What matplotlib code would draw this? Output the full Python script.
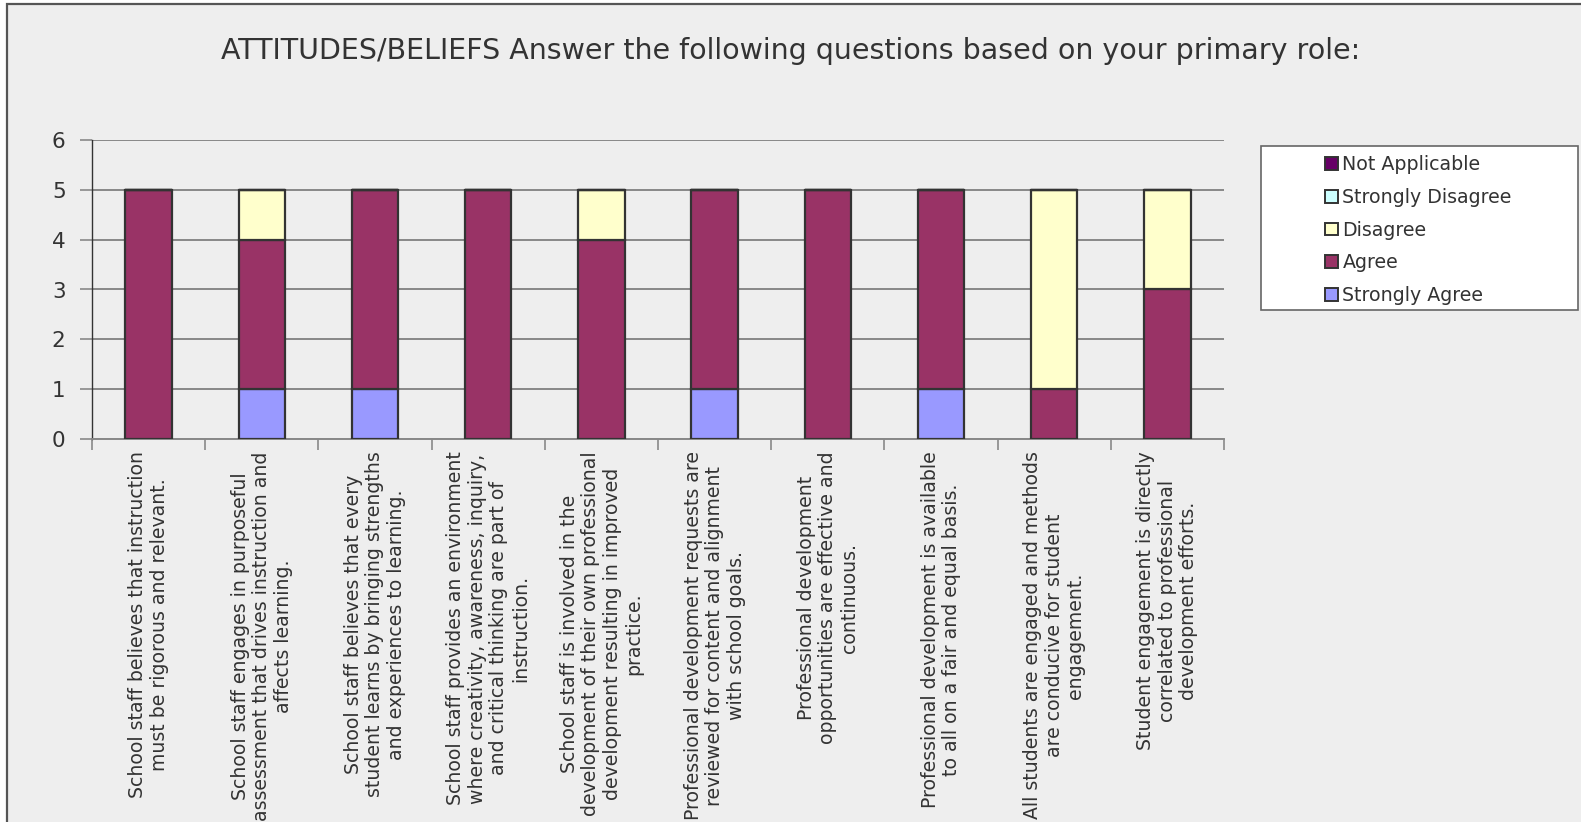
import matplotlib
matplotlib.use("Agg")
import matplotlib.pyplot as plt
from matplotlib.patches import Rectangle, Patch
import numpy as np

categories = [
    "School staff believes that instruction\nmust be rigorous and relevant.",
    "School staff engages in purposeful\nassessment that drives instruction and\naffects learning.",
    "School staff believes that every\nstudent learns by bringing strengths\nand experiences to learning.",
    "School staff provides an environment\nwhere creativity, awareness, inquiry,\nand critical thinking are part of\ninstruction.",
    "School staff is involved in the\ndevelopment of their own professional\ndevelopment resulting in improved\npractice.",
    "Professional development requests are\nreviewed for content and alignment\nwith school goals.",
    "Professional development\nopportunities are effective and\ncontinuous.",
    "Professional development is available\nto all on a fair and equal basis.",
    "All students are engaged and methods\nare conducive for student\nengagement.",
    "Student engagement is directly\ncorrelated to professional\ndevelopment efforts.",
]

strongly_agree    = [0, 1, 1, 0, 0, 1, 0, 1, 0, 0]
agree             = [5, 3, 4, 5, 4, 4, 5, 4, 1, 3]
disagree          = [0, 1, 0, 0, 1, 0, 0, 0, 4, 2]
strongly_disagree = [0, 0, 0, 0, 0, 0, 0, 0, 0, 0]
not_applicable    = [0, 0, 0, 0, 0, 0, 0, 0, 0, 0]

series_names = ["Strongly Agree", "Agree", "Disagree", "Strongly Disagree", "Not Applicable"]
series_values = [strongly_agree, agree, disagree, strongly_disagree, not_applicable]
series_colors = ["#9999FF", "#993366", "#FFFFCC", "#CCFFFF", "#660066"]

title = "ATTITUDES/BELIEFS Answer the following questions based on your primary role:"

W, H = 1581, 822
fig = plt.figure(figsize=(W / 100, H / 100), dpi=100)
fig.patch.set_facecolor("white")

# chart area panel with a border on its left and top edges
fig.patches.append(Rectangle((7 / W, -0.05), 1.1, (822 - 4) / H + 0.05,
                             transform=fig.transFigure, facecolor="#EEEEEE",
                             edgecolor="#555555", linewidth=1.6, zorder=-5))

ax = fig.add_axes([92 / W, (822 - 439) / H, (1224 - 92) / W, (439 - 140) / H])
ax.set_facecolor("none")
ax.set_zorder(2)

x = np.arange(len(categories))
bottom = np.zeros(len(categories))
for name, vals, col in zip(series_names, series_values, series_colors):
    vals = np.array(vals, dtype=float)
    ax.bar(x, vals, width=0.41, bottom=bottom, color=col, edgecolor="#333333",
           linewidth=1.6, label=name, zorder=3)
    bottom += vals

ax.set_xlim(-0.5, len(categories) - 0.5)
ax.set_ylim(0, 6)
ax.set_yticks(range(7))
ax.yaxis.grid(True, color="#888888", linewidth=1.4, zorder=1)
ax.set_axisbelow(True)

for s in ["top", "right"]:
    ax.spines[s].set_visible(False)
ax.spines["left"].set_color("#333333")
ax.spines["left"].set_linewidth(1.0)
ax.spines["bottom"].set_color("#888888")
ax.spines["bottom"].set_linewidth(1.4)

ax.tick_params(axis="y", length=9, width=1.2, color="#888888", pad=10,
               labelsize=15.5, labelcolor="#333333")
ax.set_xticks(x)
ax.set_xticklabels(categories, rotation=90, fontsize=13.6, color="#333333",
                   linespacing=1.17, multialignment="center")
ax.tick_params(axis="x", which="major", length=0, pad=9)
ax.set_xticks(np.arange(-0.5, len(categories)), minor=True)
ax.tick_params(axis="x", which="minor", length=8, width=1.2, color="#888888")

fig.text(791 / W, 1 - 51 / H, title, ha="center", va="center",
         fontsize=20.5, color="#333333")

# legend box
fig.patches.append(Rectangle((1261 / W, 1 - 310 / H), (1578 - 1261) / W, (310 - 146) / H,
                             transform=fig.transFigure, facecolor="white",
                             edgecolor="#666666", linewidth=1.2, zorder=1))
handles = [Patch(facecolor=c, edgecolor="#333333", linewidth=1.4, label=n)
           for n, c in zip(series_names[::-1], series_colors[::-1])]
fig.legend(handles=handles, loc="upper left",
           bbox_to_anchor=(1310 / W, 1 - 140 / H), frameon=False,
           fontsize=13.7, labelcolor="#333333", handlelength=0.65, handleheight=0.65,
           handletextpad=0.25, labelspacing=0.72, borderpad=0.3)

fig.savefig("out.png", dpi=100, facecolor=fig.get_facecolor())
